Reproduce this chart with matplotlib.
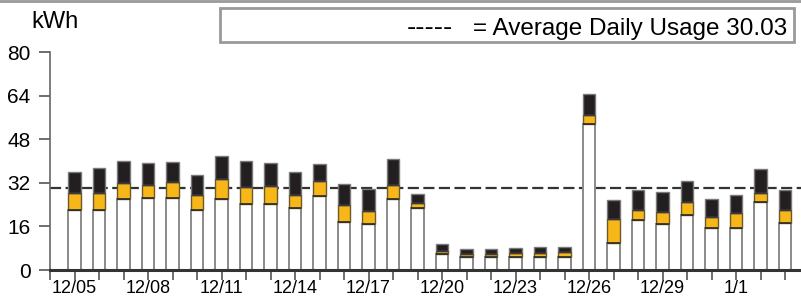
import matplotlib
matplotlib.use("Agg")
import matplotlib.pyplot as plt
from matplotlib.patches import Rectangle
from matplotlib.lines import Line2D

plt.rcParams['font.family'] = ['Liberation Sans', 'DejaVu Sans']

dates = ["12/05", "12/06", "12/07", "12/08", "12/09", "12/10", "12/11", "12/12",
         "12/13", "12/14", "12/15", "12/16", "12/17", "12/18", "12/19", "12/20",
         "12/21", "12/22", "12/23", "12/24", "12/25", "12/26", "12/27", "12/28",
         "12/29", "12/30", "12/31", "1/1", "1/2", "1/3"]
# cumulative levels
white_top = [21.9, 22.2, 25.9, 26.3, 26.4, 21.9, 25.9, 24.4, 24.4, 22.7, 27.1, 17.6, 17.0, 26.2,
             22.6, 5.7, 4.6, 4.6, 4.6, 4.6, 4.8, 53.4, 10.0, 18.5, 17.0, 20.3, 15.5, 15.5, 24.8, 17.4]
orange_top = [28.2, 28.2, 31.9, 31.2, 32.3, 27.5, 33.4, 30.5, 30.7, 27.6, 32.8, 23.8, 21.6, 31.1,
              24.6, 6.9, 6.0, 6.0, 6.2, 6.2, 6.7, 57.0, 18.6, 22.2, 21.3, 24.9, 19.6, 20.8, 28.2, 22.1]
total = [36.0, 37.4, 39.9, 39.3, 39.6, 34.9, 41.7, 40.1, 39.4, 36.0, 38.9, 31.7, 29.8, 40.6,
         28.0, 9.4, 7.8, 7.8, 7.9, 8.3, 8.5, 64.6, 25.8, 29.5, 28.6, 32.8, 25.9, 27.4, 37.1, 29.2]
average = 30.03
y_ticks = [0, 16, 32, 48, 64, 80]

W, H = 801, 296
fig = plt.figure(figsize=(W / 100, H / 100), dpi=100)
fig.patch.set_facecolor('white')

ax_left, ax_right = 50, 801
ax_bottom, ax_top = 270, 52
ax = fig.add_axes([ax_left / W, (H - ax_bottom) / H, (ax_right - ax_left) / W, (ax_bottom - ax_top) / H])

x = list(range(len(dates)))
mid = [o - w for o, w in zip(orange_top, white_top)]
top = [t - o for t, o in zip(total, orange_top)]
bw = 0.5
ax.bar(x, white_top, bw, color='white', edgecolor='#8a8a8a', linewidth=1.4, zorder=2)
ax.bar(x, mid, bw, bottom=white_top, color='#F8B719', edgecolor='#6b5a2a', linewidth=1.0, zorder=2)
ax.bar(x, top, bw, bottom=orange_top, color='#231F20', edgecolor='#7a7a7a', linewidth=1.0, zorder=2)
# dark separators between segments
for xi, wt, ot in zip(x, white_top, orange_top):
    ax.plot([xi - bw / 2, xi + bw / 2], [wt, wt], color='#2a2a2a', lw=1.2, zorder=3, solid_capstyle='butt')
    ax.plot([xi - bw / 2, xi + bw / 2], [ot, ot], color='#3a3a3a', lw=1.0, zorder=3, solid_capstyle='butt')

ax.axhline(average, color='#333333', lw=1.6, dashes=(5, 2), zorder=1)

ax.set_xlim(-1, -1 + (ax_right - ax_left) / 24.5)
ax.set_ylim(0, 80)
ax.set_yticks(y_ticks)
ax.set_yticklabels([str(v) for v in y_ticks], fontsize=15)
tick_pos = list(range(-1, len(dates)))
ax.set_xticks(tick_pos)
ax.set_xticklabels(['' if (i < 0 or i % 3) else dates[i] for i in tick_pos], fontsize=13)

for s in ['top', 'right']:
    ax.spines[s].set_visible(False)
ax.spines['left'].set_color('#666666')
ax.spines['left'].set_linewidth(1.2)
ax.spines['bottom'].set_color('#333333')
ax.spines['bottom'].set_linewidth(2.2)
ax.tick_params(axis='y', length=8, width=1.2, color='#555555', pad=6, labelcolor='black')
ax.tick_params(axis='x', length=7, width=1.2, color='#555555', pad=0, labelcolor='black')

fig.text(31 / W, 1 - 22 / H, 'kWh', fontsize=17, ha='left', va='center')

# legend box
fig.patches.append(Rectangle((220 / W, 1 - 42 / H), (794 - 220) / W, 34 / H, transform=fig.transFigure,
                             facecolor='white', edgecolor='#999999', linewidth=2))
fig.text(407 / W, 1 - 35 / H, '-----', fontsize=20, ha='left', va='baseline')
fig.text(787 / W, 1 - 35 / H, '= Average Daily Usage 30.03', fontsize=17.5, ha='right', va='baseline')

fig.lines.append(Line2D([0, 1], [1 - 1 / H, 1 - 1 / H], transform=fig.transFigure, color='#999999', lw=2))

fig.savefig('out.png', dpi=100)
